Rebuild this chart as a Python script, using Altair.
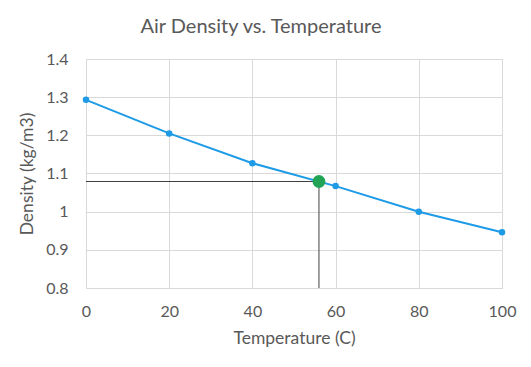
import altair as alt
import pandas as pd

temps = [0, 20, 40, 60, 80, 100]
density = [1.293, 1.205, 1.127, 1.067, 1.000, 0.946]
mark_t = [56]
mark_d = [1.079]
title_text = ["Air Density vs. Temperature"]

df = pd.DataFrame({"t": temps, "d": density})
pt = pd.DataFrame({"t": mark_t, "d": mark_d})
hline = pd.DataFrame({"t": [0], "t2": mark_t, "d": mark_d})
vline = pd.DataFrame({"t": mark_t, "d": [0.8], "d2": mark_d})

FONT = "Lato"
GRAY = "#595959"

xs = alt.Scale(domain=[0, 100], nice=False)
ys = alt.Scale(domain=[0.8, 1.4], nice=False)

xax = alt.Axis(values=[0, 20, 40, 60, 80, 100], tickCount=12, title="Temperature (C)", grid=True,
               ticks=False, tickSize=0, domain=False, labelPadding=15, titlePadding=10,
               labelFontSize=16, titleFontSize=17.5, labelColor=GRAY, titleColor=GRAY,
               labelFont=FONT, titleFont=FONT, titleFontWeight="normal",
               gridColor="#d9d9d9", labelFlush=False, labelOverlap=False)
yax = alt.Axis(values=[0.8, 0.9, 1.0, 1.1, 1.2, 1.3, 1.4], tickCount=10, title="Density (kg/m3)",
               grid=True, ticks=False, tickSize=0, domain=False, labelPadding=18, titlePadding=9,
               labelFontSize=16, titleFontSize=17.5, labelColor=GRAY, titleColor=GRAY,
               labelFont=FONT, titleFont=FONT, titleFontWeight="normal",
               gridColor="#d9d9d9", format="~g", labelFlush=False, labelOverlap=False)

base_line = alt.Chart(df).mark_line(color="#1E9BE6", strokeWidth=2).encode(
    x=alt.X("t:Q", scale=xs, axis=xax),
    y=alt.Y("d:Q", scale=ys, axis=yax),
)
pts = alt.Chart(df).mark_circle(color="#1E9BE6", size=42, opacity=1).encode(
    x=alt.X("t:Q", scale=xs), y=alt.Y("d:Q", scale=ys))

h = alt.Chart(hline).mark_rule(color="#404040", strokeWidth=1).encode(
    x=alt.X("t:Q", scale=xs), x2="t2:Q", y=alt.Y("d:Q", scale=ys))
v = alt.Chart(vline).mark_rule(color="#404040", strokeWidth=1).encode(
    x=alt.X("t:Q", scale=xs), y=alt.Y("d:Q", scale=ys), y2="d2:Q")

green = alt.Chart(pt).mark_circle(color="#21A456", size=165, opacity=1).encode(
    x=alt.X("t:Q", scale=xs), y=alt.Y("d:Q", scale=ys))

title = alt.Chart(pd.DataFrame({"txt": title_text})).mark_text(
    font=FONT, fontSize=20, color=GRAY, align="center", baseline="alphabetic"
).encode(text="txt:N", x=alt.value(175), y=alt.value(-26))

chart = alt.layer(h, v, base_line, pts, green, title).properties(
    width=416, height=229,
    autosize=alt.AutoSizeParams(type="none"),
    padding={"left": 78, "top": 51, "right": 21, "bottom": 70},
).configure_view(stroke=None).configure(background="white")

chart.save("out.html", embed_options={"renderer": "svg", "actions": False})
